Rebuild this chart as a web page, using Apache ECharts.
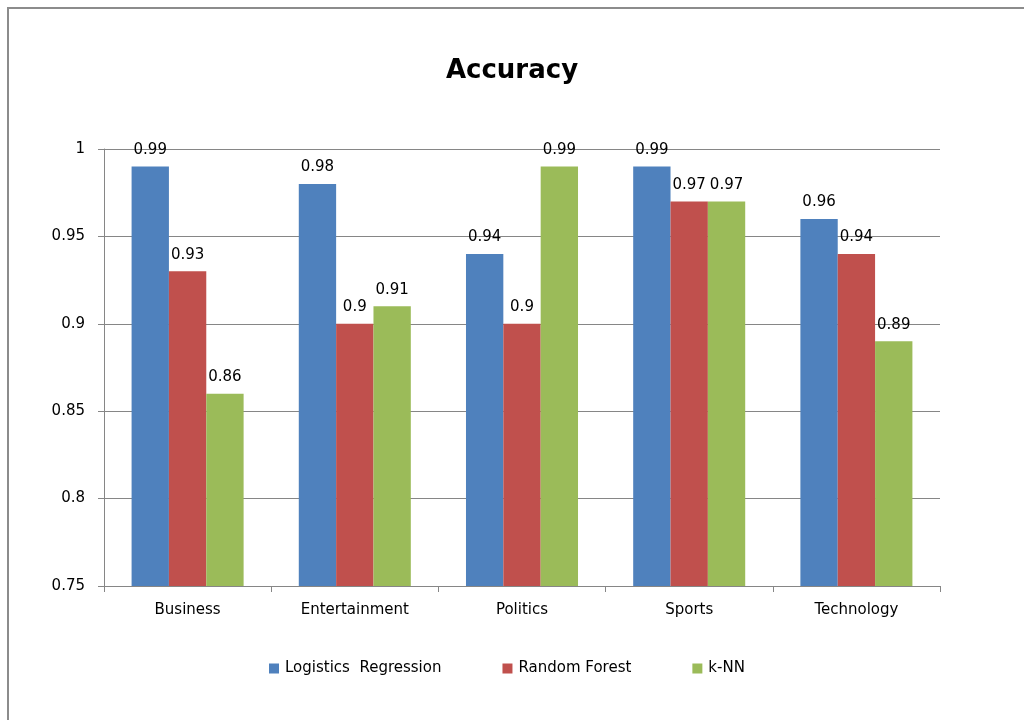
<!DOCTYPE html>
<html>
<head>
<meta charset="utf-8">
<script src="https://cdn.jsdelivr.net/npm/echarts@6/dist/echarts.min.js"></script>
<style>
  html, body { margin: 0; padding: 0; background: #fff; }
  #main { width: 1024px; height: 720px; }
</style>
</head>
<body>
<div id="main"></div>
<script>
var categories = ['Business', 'Entertainment', 'Politics', 'Sports', 'Technology'];
var logistic = [0.99, 0.98, 0.94, 0.99, 0.96];
var forest = [0.93, 0.90, 0.90, 0.97, 0.94];
var knn = [0.86, 0.91, 0.99, 0.97, 0.89];

var chart = echarts.init(document.getElementById('main'));

var labelOption = {
    show: true,
    position: 'top',
    distance: 9,
    fontSize: 15,
    color: '#000',
    fontFamily: 'DejaVu Sans'
};

var option = {
    animation: false,
    color: ['#4F81BD', '#C0504D', '#9BBB59'],
    textStyle: { fontFamily: 'DejaVu Sans' },
    graphic: [{
        type: 'rect',
        shape: { x: 8, y: 8, width: 1040, height: 740 },
        style: { fill: 'none', stroke: '#8c8c8c', lineWidth: 2 },
        silent: true
    }],
    title: {
        text: 'Accuracy',
        left: 'center',
        top: 53,
        textStyle: { fontSize: 26, fontWeight: 'bold', color: '#000', fontFamily: 'DejaVu Sans' }
    },
    legend: {
        bottom: 39,
        left: 264,
        itemWidth: 10,
        itemHeight: 10,
        itemGap: 61,
        icon: 'rect',
        textStyle: { fontSize: 15, color: '#000', fontFamily: 'DejaVu Sans', padding: [0, 0, 0, 1] },
        data: ['Logistics  Regression', 'Random Forest', 'k-NN']
    },
    grid: { left: 104, right: 84, top: 149, bottom: 134 },
    xAxis: {
        type: 'category',
        data: categories,
        axisLine: { lineStyle: { color: '#868686' } },
        axisTick: { show: true, length: 6, lineStyle: { color: '#868686' } },
        axisLabel: { fontSize: 15, color: '#000', margin: 17 }
    },
    yAxis: {
        type: 'value',
        min: 0.75,
        max: 1,
        interval: 0.05,
        axisLine: { show: true, lineStyle: { color: '#868686' } },
        axisTick: { show: true, length: 6, lineStyle: { color: '#868686' } },
        axisLabel: { fontSize: 15, color: '#000', margin: 19 },
        splitLine: { lineStyle: { color: '#868686' } }
    },
    series: [
        { name: 'Logistics  Regression', type: 'bar', barGap: 0, barCategoryGap: '33%', label: labelOption, data: logistic },
        { name: 'Random Forest', type: 'bar', label: labelOption, data: forest },
        { name: 'k-NN', type: 'bar', label: labelOption, data: knn }
    ]
};

chart.setOption(option);
</script>
</body>
</html>
